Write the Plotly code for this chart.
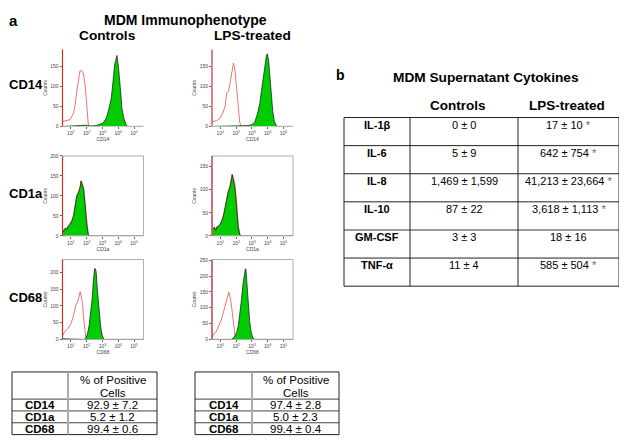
import numpy as np
import plotly.graph_objects as go

# page body has an 8px margin: figure is drawn 8px in from the top-left corner
OFF = 8
W, H = 627 - OFF, 445 - OFF
FONT = "Liberation Sans, Arial, Helvetica, sans-serif"

# ---------------- data: flow cytometry histograms (log10 fluorescence, counts) -------------
# CD14
cd14_ctrl_iso_x = [0.47, 0.75, 0.96, 1.17, 1.27, 1.375, 1.48, 1.58, 1.69, 1.79, 1.9, 2.0, 2.1, 2.17]
cd14_ctrl_iso_y = [12, 15, 17, 33, 54, 88, 121, 139, 139, 133, 104, 46, 8, 0]
cd14_ctrl_stain_x = [0.47, 1.0, 1.6, 1.8, 2.0, 2.2, 2.6, 3.04, 3.25, 3.4, 3.56, 3.67, 3.77, 3.92, 4.02, 4.15, 4.23, 4.35, 4.5, 4.6, 5.0, 5.6]
cd14_ctrl_stain_y = [0, 1, 2, 4, 3, 1, 2, 8, 21, 42, 71, 112, 154, 177, 146, 88, 46, 21, 4, 0, 0, 0]

cd14_lps_iso_x = [0.5, 0.75, 0.95, 1.15, 1.3, 1.4, 1.52, 1.62, 1.73, 1.83, 1.91, 2.01, 2.11, 2.22, 2.3]
cd14_lps_iso_y = [12, 14, 19, 33, 50, 83, 88, 112, 138, 158, 146, 104, 50, 12, 0]
cd14_lps_stain_x = [0.47, 2.3, 2.7, 3.0, 3.19, 3.36, 3.5, 3.6, 3.71, 3.81, 3.91, 3.97, 4.05, 4.13, 4.22, 4.32, 4.42, 4.58, 5.6]
cd14_lps_stain_y = [0, 1, 2, 4, 12, 33, 58, 88, 121, 154, 175, 181, 167, 129, 79, 37, 12, 0, 0]

# CD1a
cd1a_ctrl_stain_x = [0.47, 0.54, 0.65, 0.75, 0.85, 0.96, 1.06, 1.17, 1.27, 1.375, 1.48, 1.58, 1.65, 1.73, 1.81, 1.9, 2.0, 2.1, 2.17, 5.6]
cd1a_ctrl_stain_y = [17, 11, 19, 17, 25, 29, 37, 50, 75, 100, 108, 121, 137, 129, 117, 79, 29, 4, 0, 0]
cd1a_ctrl_iso_x = [0.47, 0.54, 0.65, 0.75, 0.85, 0.96, 1.06, 1.17, 1.27, 1.375, 1.48, 1.58, 1.65, 1.73, 1.81, 1.9, 2.0, 2.1, 2.17]
cd1a_ctrl_iso_y = [15, 12, 20, 18, 27, 33, 38, 52, 76, 101, 110, 122, 138, 131, 118, 80, 30, 4, 0]

cd1a_lps_stain_x = [0.5, 0.62, 0.71, 0.79, 0.89, 0.99, 1.09, 1.19, 1.3, 1.4, 1.5, 1.6, 1.68, 1.75, 1.83, 1.93, 2.03, 2.13, 2.22, 2.28, 5.6]
cd1a_lps_stain_y = [15, 18, 12, 19, 21, 25, 32, 43, 61, 79, 96, 104, 121, 132, 121, 100, 61, 18, 4, 0, 0]
cd1a_lps_iso_x = [0.5, 0.62, 0.71, 0.79, 0.89, 0.99, 1.09, 1.19, 1.3, 1.4, 1.5, 1.6, 1.68, 1.75, 1.83, 1.93, 2.03, 2.13, 2.22, 2.28]
cd1a_lps_iso_y = [14, 20, 14, 21, 22, 26, 33, 44, 62, 80, 97, 106, 122, 134, 125, 111, 75, 24, 5, 0]

# CD68
cd68_ctrl_iso_x = [0.49, 0.59, 0.8, 1.01, 1.11, 1.22, 1.32, 1.43, 1.53, 1.59, 1.68, 1.74, 1.8, 1.89, 1.95]
cd68_ctrl_iso_y = [12, 22, 32, 47, 62, 82, 102, 112, 132, 142, 122, 107, 67, 27, 2]
cd68_ctrl_stain_x = [0.47, 1.0, 1.8, 1.95, 2.05, 2.16, 2.26, 2.36, 2.43, 2.51, 2.58, 2.61, 2.68, 2.78, 2.89, 2.99, 3.09, 5.6]
cd68_ctrl_stain_y = [2, 1, 0, 2, 17, 42, 77, 127, 177, 212, 207, 197, 147, 87, 37, 12, 0, 0]

cd68_lps_iso_x = [0.49, 0.58, 0.72, 0.83, 0.93, 1.04, 1.14, 1.24, 1.35, 1.45, 1.54, 1.6, 1.66, 1.74, 1.83, 1.91, 1.99]
cd68_lps_iso_y = [7, 18, 23, 34, 44, 60, 76, 97, 118, 134, 149, 139, 123, 92, 49, 18, 0]
cd68_lps_stain_x = [0.47, 1.7, 1.87, 2.04, 2.14, 2.24, 2.33, 2.41, 2.49, 2.58, 2.62, 2.68, 2.76, 2.85, 2.95, 3.06, 3.16, 5.6]
cd68_lps_stain_y = [0, 0, 7, 23, 44, 81, 123, 165, 197, 223, 220, 176, 113, 60, 23, 5, 0, 0]

markers = ["CD14", "CD1a", "CD68"]
groups = ["Controls", "LPS-treated"]
y_max = [[192, 192], [200, 173], [238, 252]]
y_ticks = [[[0, 50, 100, 150], [0, 50, 100, 150]],
           [[0, 50, 100, 150, 200], [0, 50, 100, 150]],
           [[0, 50, 100, 150, 200], [0, 50, 100, 150, 200, 250]]]
x_tick_vals = [10, 100, 1000, 10000, 100000]
x_tick_text = ["10<sup>1</sup>", "10<sup>2</sup>", "10<sup>3</sup>", "10<sup>4</sup>", "10<sup>5</sup>"]

panels = [
    [(cd14_ctrl_iso_x, cd14_ctrl_iso_y, cd14_ctrl_stain_x, cd14_ctrl_stain_y),
     (cd14_lps_iso_x, cd14_lps_iso_y, cd14_lps_stain_x, cd14_lps_stain_y)],
    [(cd1a_ctrl_iso_x, cd1a_ctrl_iso_y, cd1a_ctrl_stain_x, cd1a_ctrl_stain_y),
     (cd1a_lps_iso_x, cd1a_lps_iso_y, cd1a_lps_stain_x, cd1a_lps_stain_y)],
    [(cd68_ctrl_iso_x, cd68_ctrl_iso_y, cd68_ctrl_stain_x, cd68_ctrl_stain_y),
     (cd68_lps_iso_x, cd68_lps_iso_y, cd68_lps_stain_x, cd68_lps_stain_y)],
]

# ---------------- data: tables ----------------
pos_rows = ["CD14", "CD1a", "CD68"]
pos_header = ["% of Positive", "Cells"]
pos_ctrl = ["92.9 ± 7.2", "5.2 ± 1.2", "99.4 ± 0.6"]
pos_lps = ["97.4 ± 2.8", "5.0 ± 2.3", "99.4 ± 0.4"]

cyt_rows = ["IL-1β", "IL-6", "IL-8", "IL-10", "GM-CSF", "TNF-α"]
cyt_ctrl = ["0 ± 0", "5 ± 9", "1,469 ± 1,599", "87 ± 22", "3 ± 3", "11 ± 4"]
cyt_lps = ["17 ± 10", "642 ± 754", "41,213 ± 23,664", "3,618 ± 1,113", "18 ± 16", "585 ± 504"]
cyt_sig = [True, True, True, True, False, True]

# ---------------- helpers (page pixel -> paper) ----------------
def X(px):
    return (px - OFF) / W

def Y(py):
    return 1 - (py - OFF) / H

fig = go.Figure()
shapes = []
annotations = []

col_lr = [(62.5, 143.5), (212, 293)]
row_tb = [(47, 125), (155, 236), (260, 341)]
TICKF = dict(size=5, color="#444", family=FONT)

k = 0
for r in range(3):
    for c in range(2):
        k += 1
        xa = "x" if k == 1 else f"x{k}"
        ya = "y" if k == 1 else f"y{k}"
        ix, iy, sx, sy = panels[r][c]
        fig.add_trace(go.Scatter(x=10 ** np.array(ix), y=iy, mode="lines",
                                 line=dict(color="#e8504a", width=0.8), xaxis=xa, yaxis=ya,
                                 hoverinfo="skip", showlegend=False))
        fig.add_trace(go.Scatter(x=10 ** np.array(sx), y=sy, mode="lines", fill="tozeroy",
                                 fillcolor="#00cc00", line=dict(color="#111111", width=0.7),
                                 xaxis=xa, yaxis=ya, hoverinfo="skip", showlegend=False))
        l, rr = col_lr[c]
        t, b = row_tb[r]
        axk = "" if k == 1 else str(k)
        fig.layout["xaxis" + axk] = dict(
            domain=[X(l), X(rr)], anchor=ya, type="log", range=[0.47, 5.6],
            tickvals=x_tick_vals, ticktext=x_tick_text, showgrid=False, zeroline=False,
            showline=False, ticks="outside", ticklen=2, tickwidth=0.5, tickcolor="#666",
            tickfont=TICKF,
            title=dict(text=markers[r], font=TICKF, standoff=1),
        )
        fig.layout["yaxis" + axk] = dict(
            domain=[Y(b), Y(t)], anchor=xa, range=[0, y_max[r][c]],
            tickvals=y_ticks[r][c], showgrid=False, zeroline=False, showline=False,
            ticks="outside", ticklen=2, tickwidth=0.5, tickcolor="#666",
            tickfont=TICKF,
            title=dict(text="Counts", font=TICKF, standoff=2),
        )
        if r == 0:
            shapes.append(dict(type="line", xref=f"{xa} domain", yref=f"{ya} domain",
                               x0=0, x1=1, y0=0, y1=0, line=dict(color="#bbbbbb", width=0.6)))
        else:
            shapes.append(dict(type="rect", xref=f"{xa} domain", yref=f"{ya} domain",
                               x0=0, x1=1, y0=0, y1=1, line=dict(color="#999999", width=0.8)))
        shapes.append(dict(type="line", xref=f"{xa} domain", yref=f"{ya} domain",
                           x0=0, x1=0, y0=0, y1=1, line=dict(color="#c8302a", width=1.2)))


def text(px, py, s, size, bold=False, anchor="center", color="#000", yanchor="middle"):
    annotations.append(dict(x=X(px), y=Y(py), xref="paper", yref="paper", text=s,
                            showarrow=False, xanchor=anchor, yanchor=yanchor,
                            borderpad=0, font=dict(size=size, family=FONT, color=color,
                                                   weight="bold" if bold else "normal")))


def hline(x0, x1, py, color="#000", width=1):
    shapes.append(dict(type="line", xref="paper", yref="paper", x0=X(x0), x1=X(x1),
                       y0=Y(py), y1=Y(py), line=dict(color=color, width=width)))


def vline(px, y0, y1, color="#000", width=1):
    shapes.append(dict(type="line", xref="paper", yref="paper", x0=X(px), x1=X(px),
                       y0=Y(y0), y1=Y(y1), line=dict(color=color, width=width)))


# titles / labels for panel a
text(OFF, OFF, "a", 15, bold=True, anchor="left", yanchor="top")
text(185, OFF, "MDM Immunophenotype", 14, bold=True, yanchor="top")
text(107, 33, groups[0], 13.7, bold=True)
text(252, 33, groups[1], 13.7, bold=True)
for r, py in enumerate([83, 193, 298]):
    text(OFF, py, markers[r], 13, bold=True, anchor="left")

# small tables under panel a
for (xl, xm, xr), vals in [((12, 68, 157), pos_ctrl), ((195, 252, 339), pos_lps)]:
    top = 374
    rows_y = [401.5, 413.5, 425.5, 437.5]
    hline(xl, xr, top, "#222", 1)
    for yy in rows_y[:-1]:
        hline(xl, xr, yy, "#444", 1)
    hline(xl, xr, rows_y[-1], "#222", 1)
    vline(xl, top, rows_y[-1], "#222", 1)
    vline(xr, top, rows_y[-1], "#222", 1)
    vline(xm, top, rows_y[-1], "#aaaaaa", 2)
    text((xm + xr) / 2, 382, pos_header[0], 11.5)
    text((xm + xr) / 2, 395, pos_header[1], 11.5)
    for i in range(3):
        cy = (rows_y[i] + rows_y[i + 1]) / 2
        text((xl + xm) / 2, cy, pos_rows[i], 11.5, bold=True)
        text((xm + xr) / 2, cy, vals[i], 11.5)

# panel b
text(341, 73, "b", 14, bold=True)
text(486, 75, "MDM Supernatant Cytokines", 13.7, bold=True)
text(458, 104, groups[0], 13.5, bold=True)
text(567, 104, groups[1], 13.5, bold=True)
cols = [344, 410, 518, 619]
row_lines = [116, 144.5, 173, 201.5, 230, 258.5, 287]
for i, yy in enumerate(row_lines):
    if i == 4:
        hline(cols[0], cols[-1], yy, "#999999", 2)
    else:
        hline(cols[0], cols[-1], yy, "#222", 1)
for xx in cols:
    vline(xx, row_lines[0], row_lines[-1], "#222", 1)
for i in range(6):
    cy = row_lines[i] + 7.5
    text((cols[0] + cols[1]) / 2, cy, cyt_rows[i], 11, bold=True)
    text((cols[1] + cols[2]) / 2, cy, cyt_ctrl[i], 11)
    s = cyt_lps[i] + (" <span style='color:#666'>*</span>" if cyt_sig[i] else "")
    text((cols[2] + cols[3]) / 2, cy, s, 11)

fig.update_layout(width=W, height=H, margin=dict(l=0, r=0, t=0, b=0),
                  paper_bgcolor="white", plot_bgcolor="white", showlegend=False,
                  shapes=shapes, annotations=annotations, font=dict(family=FONT))
fig.write_html("out.html")
